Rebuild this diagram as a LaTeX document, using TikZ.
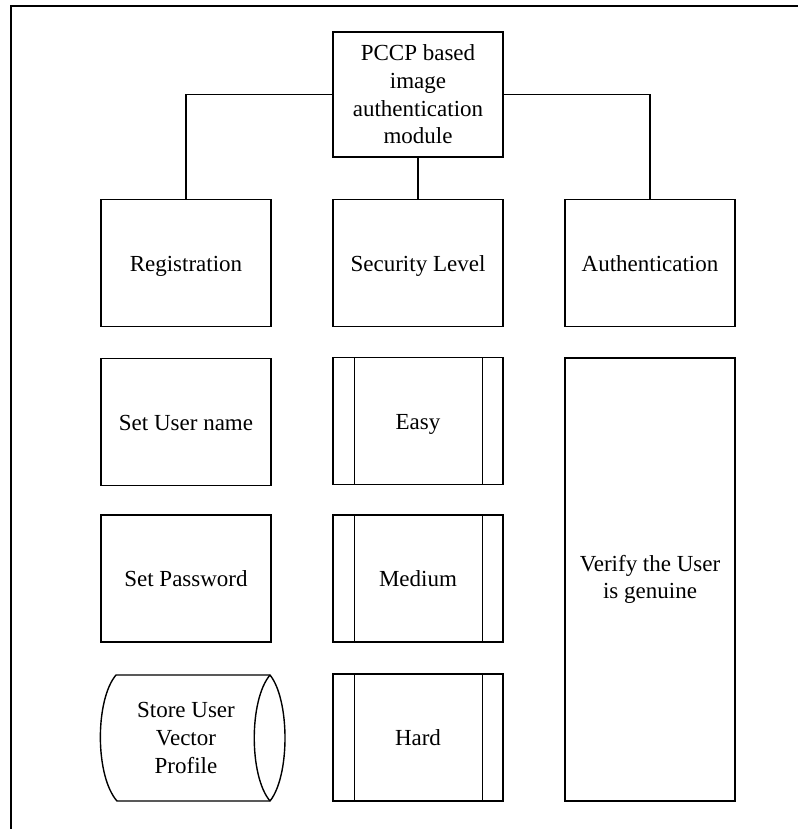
\documentclass[tikz,border=0pt]{standalone}
\usepackage{fontspec}
\setmainfont{Liberation Serif}
\begin{document}
\begin{tikzpicture}[x=1pt,y=-1pt,
  box/.style={draw, line width=1.4pt, outer sep=0pt, minimum width=170pt, minimum height=127pt,
    align=center, inner sep=2pt, font=\fontsize{23}{27.7}\selectfont},
  one/.style={box, text height=21pt, text depth=5pt},
  inner/.style={line width=1pt},
  link/.style={line width=1.4pt},
  frame/.style={line width=2pt}]
\useasboundingbox (0,0) rectangle (798,829);
\fill[white] (0,0) rectangle (798,829);
\draw[frame] (11,829) -- (11,6) -- (798,6);

\node[box, minimum height=125pt] (mod) at (418,94.5) {PCCP based\\image\\authentication\\module};
\node[one] (reg)  at (186,263) {Registration};
\node[one] (sec)  at (418,263) {Security Level};
\node[one] (auth) at (650,263) {Authentication};

\node[one] (user) at (186,422) {Set User name};
\node[one] (pass) at (186,578.5) {Set Password};
\node[box, draw=none] (store) at (186,738) {Store User\\Vector\\Profile};

\node[one] (easy) at (418,421) {Easy};
\node[one] (medium) at (418,578.5) {Medium};
\node[one] (hard) at (418,737.5) {Hard};

\node[box, minimum height=443pt] (verify) at (650,579.5) {Verify the User\\is genuine};

\foreach \n in {easy,medium,hard}{
  \draw[inner] ([xshift=21pt]\n.north west) -- ([xshift=21pt]\n.south west);
  \draw[inner] ([xshift=-21pt]\n.north east) -- ([xshift=-21pt]\n.south east);
}

% stored data shape
\draw[line width=1.4pt] (116,675) -- (270,675)
  .. controls (290,700) and (290,776) .. (270,801)
  -- (117,801)
  .. controls (95,776) and (95,700) .. (116,675) -- cycle;
\draw[line width=1.4pt] (270,675) .. controls (249,700) and (249,776) .. (270,801);

\draw[link] (mod.south) -- (sec.north);
\draw[link] (mod.west) -| (reg.north);
\draw[link] (mod.east) -| (auth.north);
\end{tikzpicture}
\end{document}
